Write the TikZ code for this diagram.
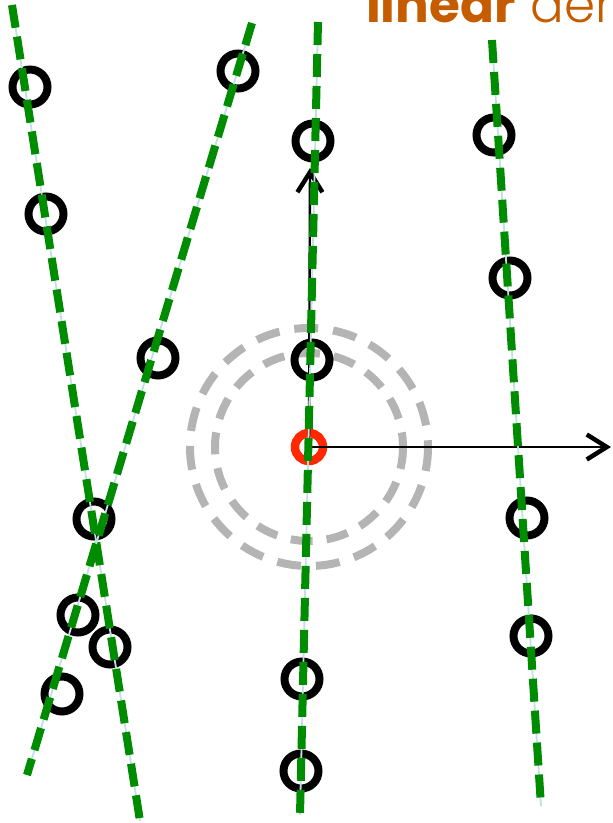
\documentclass[tikz,border=0pt]{standalone}
\usepackage{fontspec}
\usetikzlibrary{arrows.meta}
\newfontfamily\headbold{Poppins}
\newfontfamily\headlight{Poppins Light}
\definecolor{linegreen}{RGB}{0,140,0}
\definecolor{lineshade}{RGB}{190,225,228}
\definecolor{ringgray}{RGB}{180,180,180}
\definecolor{originred}{RGB}{255,40,0}
\definecolor{titleorange}{RGB}{197,92,0}
\begin{document}
\begin{tikzpicture}[x=1pt,y=-1pt,
  sample/.style={circle,draw=black,line width=8pt,minimum size=35pt,inner sep=0pt},
  originmark/.style={circle,draw=originred,line width=8.5pt,minimum size=28pt,inner sep=0pt},
  halo/.style={draw=ringgray,line width=8pt},
  axis/.style={draw=black,line width=2.4pt,-{Straight Barb[length=20pt,width=25pt,line width=4.5pt]}},
  fitbase/.style={draw=lineshade,line width=1.8pt},
  fitline/.style={draw=linegreen,line width=8pt,dash pattern=on 23pt off 9pt}]
\useasboundingbox (0,0) rectangle (613,823);

% title, partly outside the page
\node[anchor=base west,inner sep=0pt,text=titleorange,font=\fontsize{50}{50}\selectfont] (title) at (366,22)
  {{\headbold\bfseries linear} {\headlight der}};

% dashed halos round the origin
\coordinate (o) at (309,447);
\draw[halo,dash pattern=on 24pt off 15pt] (o) circle[radius=119];
\draw[halo,dash pattern=on 22pt off 14pt] (o) circle[radius=94];

% samples
\node[sample] (a1) at (30,87) {};
\node[sample] (a2) at (46,214) {};
\node[sample] (a3) at (110,647) {};
\node[sample] (x)  at (94,519) {};
\node[sample] (b1) at (238,71) {};
\node[sample] (b2) at (158,358) {};
\node[sample] (b3) at (78,615) {};
\node[sample] (b4) at (62,694) {};
\node[sample] (c1) at (313,141) {};
\node[sample] (c2) at (312,360) {};
\node[sample] (c3) at (302,679) {};
\node[sample] (c4) at (301,771) {};
\node[sample] (d1) at (494,135) {};
\node[sample] (d2) at (510,278) {};
\node[sample] (d3) at (527,518) {};
\node[sample] (d4) at (531,636) {};

% origin and axes
\node[originmark] (org) at (o) {};
\coordinate (xend) at (611,447);
\coordinate (yend) at (310,168);
\draw[axis] (org.center) -- (xend);
\draw[axis] (org.center) -- (yend);

% fitted lines
\coordinate (la0) at (12,5);   \coordinate (la1) at (140,821);
\coordinate (lb0) at (252,23); \coordinate (lb1) at (27,775);
\coordinate (lc0) at (318,22); \coordinate (lc1) at (300,815);
\coordinate (ld0) at (492,40); \coordinate (ld1) at (541,806);
\foreach \p/\q in {la0/la1,lb0/lb1,lc0/lc1,ld0/ld1}{
  \draw[fitbase] (\p) -- (\q);
  \draw[fitline] (\p) -- (\q);
}
\end{tikzpicture}
\end{document}
